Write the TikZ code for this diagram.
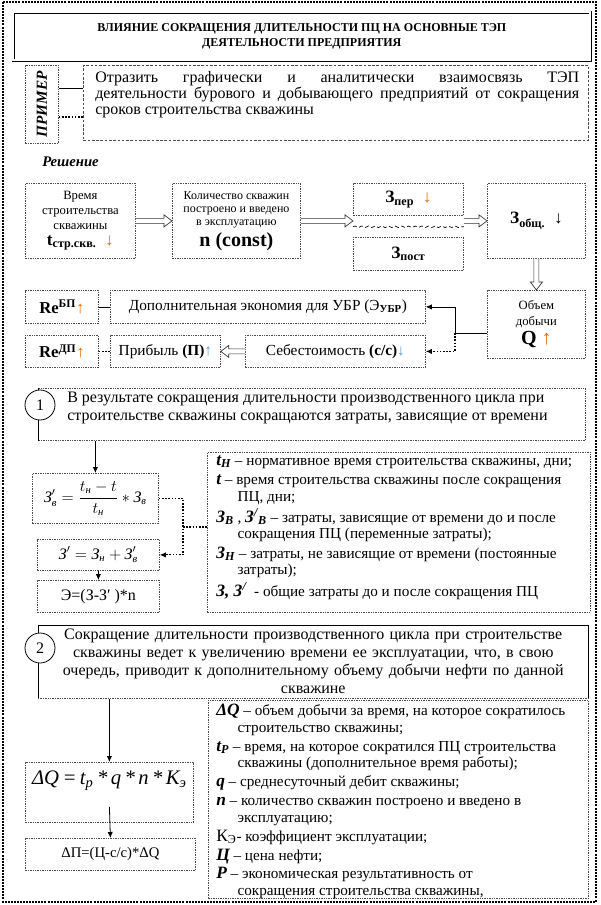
\documentclass[tikz,border=0pt]{standalone}
\usepackage{fontspec}
\setmainfont{Liberation Serif}
\usepackage{amsmath}
\usepackage{graphicx}
\usetikzlibrary{calc,arrows.meta,decorations.pathmorphing}
\definecolor{aor}{HTML}{E36C0A}
\definecolor{abl}{HTML}{5B9BD5}
\newcommand{\mybox}[7]{\node[#1, anchor=north west, minimum width={(#4-#2)*0.75pt}, minimum height={(#5-#3)*0.75pt}] (#6) at (#2,#3) {#7};}
\newcommand{\harR}[2]{\draw[hollow] ($(#1)+(0,-2.5)$) -- ($(#2)+(-8,-2.5)$) -- ($(#2)+(-8,-6)$) -- (#2) -- ($(#2)+(-8,6)$) -- ($(#2)+(-8,2.5)$) -- ($(#1)+(0,2.5)$);}
\newcommand{\harL}[2]{\draw[hollow] ($(#1)+(0,-2.5)$) -- ($(#2)+(8,-2.5)$) -- ($(#2)+(8,-6)$) -- (#2) -- ($(#2)+(8,6)$) -- ($(#2)+(8,2.5)$) -- ($(#1)+(0,2.5)$);}
\newcommand{\harD}[2]{\draw[hollow] ($(#1)+(-2.5,0)$) -- ($(#2)+(-2.5,-8)$) -- ($(#2)+(-6,-8)$) -- (#2) -- ($(#2)+(6,-8)$) -- ($(#2)+(2.5,-8)$) -- ($(#1)+(2.5,0)$);}
\newcommand{\symb}[1]{{\fontsize{13}{13}\selectfont\bfseries\itshape #1}}
\newcommand{\cyi}[1]{\text{\itshape #1}}
\begin{document}
\begin{tikzpicture}[x=0.75pt,y=-0.75pt,
  dbox/.style={draw=black!70, line width=0.6pt, dash pattern=on 1pt off 0.8pt, fill=white, align=center, inner sep=1pt},
  dedge/.style={draw=black!70, line width=0.6pt, dash pattern=on 1pt off 0.8pt},
  sline/.style={line width=0.6pt},
  dline/.style={line width=0.8pt, dash pattern=on 1.2pt off 1.2pt},
  arr/.style={-{Latex[length=4.5pt,width=4pt]}},
  hollow/.style={draw=black!80, line width=0.5pt, fill=white},
  circ/.style={circle, draw, fill=white, line width=0.6pt, minimum size=22.5pt, inner sep=0pt, font=\fontsize{12}{12}\selectfont}]
\useasboundingbox (0,0) rectangle (600,905);
\draw[line width=0.9pt, dash pattern=on 1.5pt off 0.8pt] (3,2) rectangle (596,902);

% title
\mybox{draw, double, double distance=1.3pt, line width=0.4pt, align=center, font=\fontsize{9}{11.3}\selectfont\bfseries}{13}{12}{590}{60}{title}{ВЛИЯНИЕ СОКРАЩЕНИЯ ДЛИТЕЛЬНОСТИ ПЦ НА ОСНОВНЫЕ ТЭП\\ДЕЯТЕЛЬНОСТИ ПРЕДПРИЯТИЯ}

% example
\mybox{dbox, font=\fontsize{11.5}{11.5}\selectfont\bfseries\itshape}{25}{65}{58}{143}{prim}{\rotatebox{90}{ПРИМЕР}}
\mybox{draw=black!70, line width=0.6pt, dash pattern=on 2pt off 1.2pt}{83}{65}{588}{140}{task}{}
\node[anchor=north west, inner sep=0pt, text width=363pt, align=justify, font=\fontsize{12}{12.2}\selectfont] (taskt) at (95,71) {Отразить графически и аналитически взаимосвязь ТЭП\linebreak деятельности бурового и добывающего предприятий от сокращения\linebreak сроков строительства скважины};
\draw[sline] ($(prim.north east)+(0,23)$) -- ($(task.north west)+(0,23)$);
\draw[dline] ($(prim.north east)+(0,52)$) -- ($(task.north west)+(0,52)$);

\node[anchor=base west, inner sep=0pt, font=\fontsize{11}{11}\selectfont\bfseries\itshape] (resh) at (42,167) {Решение};

% flow
\mybox{dbox, font=\fontsize{9.5}{11}\selectfont}{25}{183}{135}{258}{ta}{Время\\строительства\\скважины\\[1pt]{\fontsize{13}{14}\selectfont\textbf{t\textsubscript{стр.скв.}}\enspace\textcolor{aor}{↓}}}
\mybox{dbox, font=\fontsize{9}{10}\selectfont}{172}{183}{300}{258}{nb}{Количество скважин\\построено и введено\\в эксплуатацию\\[2pt]{\fontsize{15}{16}\selectfont\bfseries n (const)}}
\mybox{dbox, font=\fontsize{13}{13}\selectfont}{353}{183}{463}{215}{zper}{\textbf{З\textsubscript{пер}}\enspace\textcolor{aor}{↓}}
\mybox{dbox, font=\fontsize{13}{13}\selectfont}{353}{237}{463}{270}{zpost}{\textbf{З\textsubscript{пост}}}
\mybox{dbox, font=\fontsize{13}{13}\selectfont}{487}{183}{585}{258}{zob}{\textbf{З\textsubscript{общ.}}\enspace ↓}
\draw[decorate, decoration={snake, amplitude=0.6pt, segment length=5pt}, dash pattern=on 3pt off 2pt, line width=0.5pt] ($(zper.south west)+(0,11)$) -- ($(zper.south east)+(0,11)$);
\mybox{dbox, font=\fontsize{9.5}{12}\selectfont}{487}{290}{585}{358}{ob}{Объем\\добычи\\[2pt]{\fontsize{15}{16}\selectfont\textbf{Q}\ \textcolor{aor}{↑}}}

\mybox{dbox, font=\fontsize{12.5}{13}\selectfont}{25}{290}{98}{323}{rb}{\textbf{Re\textsuperscript{БП}}\textcolor{aor}{↑}}
\mybox{dbox, font=\fontsize{11.5}{12}\selectfont}{110}{290}{425}{323}{dop}{Дополнительная экономия для УБР (Э\textsubscript{\textbf{УБР}})}
\mybox{dbox, font=\fontsize{12.5}{13}\selectfont}{25}{335}{98}{367}{rd}{\textbf{Re\textsuperscript{ДП}}\textcolor{aor}{↑}}
\mybox{dbox, font=\fontsize{11.5}{12}\selectfont}{110}{335}{220}{367}{prib}{Прибыль \textbf{(П)}\textcolor{abl}{↑}}
\mybox{dbox, font=\fontsize{11.5}{12}\selectfont}{245}{335}{425}{367}{seb}{Себестоимость \textbf{(с/с)}\textcolor{abl}{↓}}

\harR{ta.east}{nb.west}
\harR{nb.east}{nb.east -| zper.west}
\harR{zob.west -| zper.east}{zob.west}
\harD{zob.south}{ob.north}
\harL{seb.west}{prib.east}
\draw[sline] (rb.east) -- (dop.west);
\draw[dline] (rd.east) -- (prib.west);
\coordinate (jn) at (455,333);
\draw[sline] (ob.west |- jn) -- (jn);
\draw[sline, arr] (jn) |- (dop.east);
\draw[dline, arr] (jn) |- (seb.east);

% block 1
\mybox{dbox, fill=none}{38}{388}{585}{440}{b1}{}
\draw[sline] (b1.south west) -- (b1.north west);
\node[circ] (c1) at (40,405) {1};
\node[anchor=north west, inner sep=0pt, align=left, font=\fontsize{12}{13.5}\selectfont] (b1t) at (67,392) {В результате сокращения длительности производственного цикла при\\строительстве скважины сокращаются затраты, зависящие от времени};

\mybox{dbox, font=\fontsize{12}{12}\selectfont}{32}{473}{158}{523}{f1}{$\cyi{З}'_{\cyi{в}} = \dfrac{t_{\cyi{н}} - t}{t_{\cyi{н}}} * \cyi{З}_{\cyi{в}}$}
\mybox{dbox, font=\fontsize{12}{12}\selectfont}{37}{539}{159}{570}{f2}{$\cyi{З}' = \cyi{З}_{\cyi{н}} + \cyi{З}'_{\cyi{в}}$}
\mybox{dbox, font=\fontsize{12}{12}\selectfont}{37}{580}{159}{612}{f3}{Э=(З-З′ )*n}
\draw[sline, arr] (b1.south -| f1.north) -- (f1.north);
\draw[sline, arr] (f2.south) -- (f3.north);
\mybox{dbox}{207}{452}{590}{612}{d1}{}
\coordinate (vx) at (183,527);
\draw[dline, arr] (f1.east) -| (vx |- f2.east) -- (f2.east);
\draw[dline] (vx) -- (vx -| d1.west);
\node[anchor=north west, inner sep=0pt, align=left, font=\fontsize{11.4}{12.4}\selectfont] (d1t) at (216,455) {%
\symb{t\textsubscript{H}} – нормативное время строительства скважины, дни;\\[2.2pt]
\symb{t} – время строительства скважины после сокращения\\
\hspace*{16pt}ПЦ, дни;\\[2.2pt]
\symb{З\textsubscript{B}} , \symb{З\textsuperscript{/}\textsubscript{B}} – затраты, зависящие от времени до и после\\
\hspace*{16pt}сокращения ПЦ (переменные затраты);\\[2.2pt]
\symb{З\textsubscript{H}} – затраты, не зависящие от времени (постоянные\\
\hspace*{16pt}затраты);\\[2.2pt]
\symb{З, З\textsuperscript{/}} \ - общие затраты до и после сокращения ПЦ};

% block 2
\mybox{align=center, text width=390pt, inner sep=1pt, font=\fontsize{12}{13.5}\selectfont}{38}{625}{588}{698}{b2}{Сокращение длительности производственного цикла при строительстве\\скважины ведет к увеличению времени ее эксплуатации, что, в свою\\очередь, приводит к дополнительному объему добычи нефти по данной\\скважине}
\draw[sline] (b2.south west) -- (b2.north west) -- (b2.north east) -- (b2.south east);
\draw[dedge] (b2.south west) -- (b2.south east);
\node[circ] (c2) at (40,648) {2};

\mybox{dbox, font=\fontsize{15.5}{15.5}\selectfont\itshape}{25}{762}{193}{822}{f4}{ΔQ\,=\,t\textsubscript{p}\,*\,q\,*\,n\,*\,K\textsubscript{э}\\[6pt]}
\mybox{dbox, font=\fontsize{11}{11}\selectfont}{25}{838}{195}{870}{f5}{ΔП=(Ц-с/с)*ΔQ}
\draw[sline, arr] (b2.south -| f4.north) -- (f4.north);
\coordinate (f4a) at ($(f4.south)+(0,-16)$);
\draw[sline, arr] (f4a) -- (f5.north);
\mybox{dbox}{208}{700}{588}{898}{d2}{}
\node[anchor=north west, inner sep=0pt, align=left, font=\fontsize{11.4}{12.4}\selectfont] (d2t) at (216,704) {%
\symb{ΔQ} – объем добычи за время, на которое сократилось\\
\hspace*{16pt}строительство скважины;\\[1.8pt]
\symb{t\textsubscript{P}} – время, на которое сократился ПЦ строительства\\
\hspace*{16pt}скважины (дополнительное время работы);\\[1.8pt]
\symb{q} – среднесуточный дебит скважины;\\[1.8pt]
\symb{n} – количество скважин построено и введено в\\
\hspace*{16pt}эксплуатацию;\\[1.8pt]
{\fontsize{13}{13}\selectfont К\textsubscript{Э}}- коэффициент эксплуатации;\\[1.8pt]
\symb{Ц} – цена нефти;\\[1.8pt]
\symb{Р} – экономическая результативность от\\
\hspace*{16pt}сокращения строительства скважины,};
\end{tikzpicture}
\end{document}
